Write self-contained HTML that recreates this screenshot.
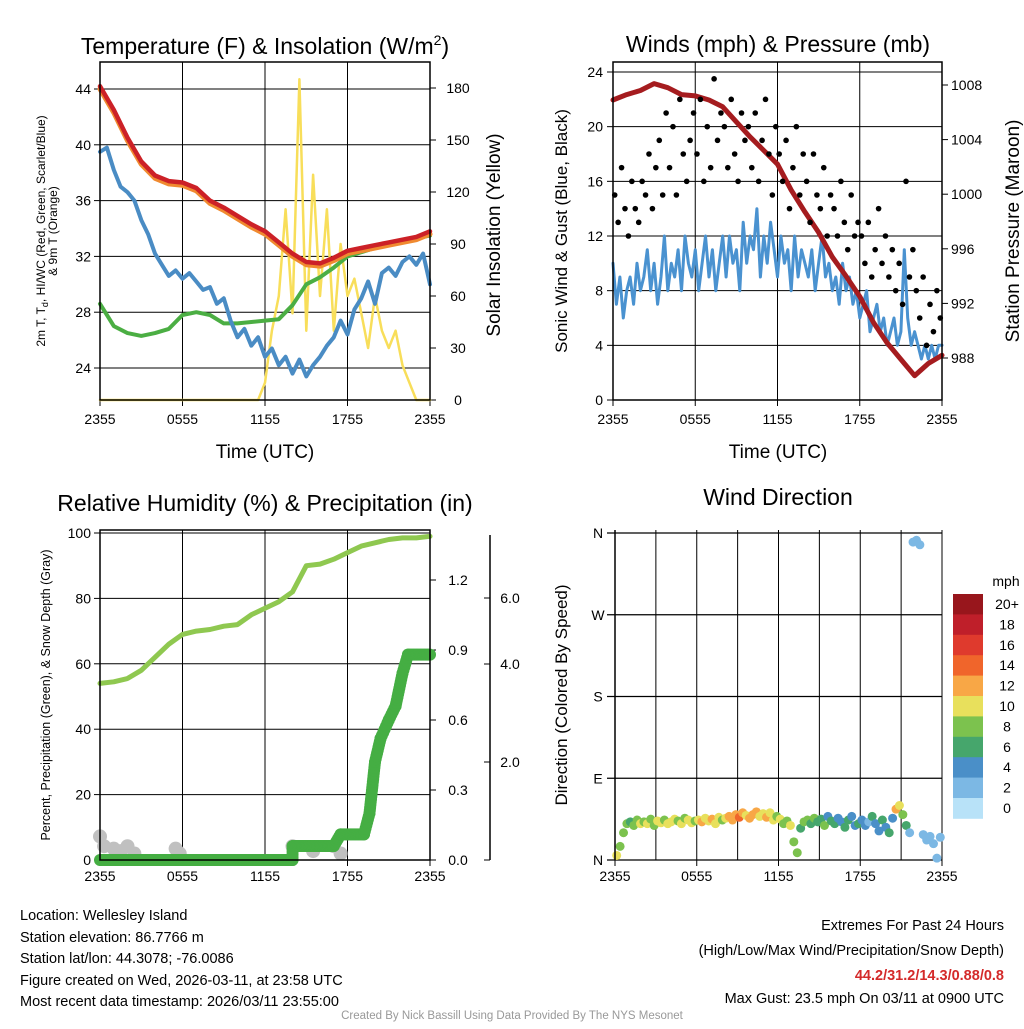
<!DOCTYPE html>
<html><head><meta charset="utf-8"><style>
body{margin:0;background:#fff;width:1024px;height:1024px;overflow:hidden;font-family:"Liberation Sans",sans-serif}
svg text{font-family:"Liberation Sans",sans-serif;fill:#000}
</style></head><body>
<svg id="s" width="1024" height="1024" viewBox="0 0 1024 1024">
<text x="265" y="54" font-size="23" text-anchor="middle">Temperature (F) &amp; Insolation (W/m<tspan font-size="14" dy="-9">2</tspan><tspan dy="9">)</tspan></text>
<text x="778" y="52" font-size="23" text-anchor="middle">Winds (mph) &amp; Pressure (mb)</text>
<text x="265" y="511" font-size="23" text-anchor="middle">Relative Humidity (%) &amp; Precipitation (in)</text>
<text x="778" y="505" font-size="23" text-anchor="middle">Wind Direction</text>
<text x="265" y="458" font-size="19" text-anchor="middle">Time (UTC)</text>
<text x="778" y="458" font-size="19" text-anchor="middle">Time (UTC)</text>
<g transform="translate(45,231) rotate(-90)"><text x="0" y="0" font-size="12" text-anchor="middle">2m T, T<tspan font-size="9" dy="3">d</tspan><tspan dy="-3">, HI/WC (Red, Green, Scarlet/Blue)</tspan></text><text x="0" y="12" font-size="12" text-anchor="middle">&amp; 9m T (Orange)</text></g>
<text transform="translate(500,235) rotate(-90)" font-size="19" text-anchor="middle">Solar Insolation (Yellow)</text>
<text transform="translate(567,231) rotate(-90)" font-size="17" text-anchor="middle">Sonic Wind &amp; Gust (Blue, Black)</text>
<text transform="translate(1019,231) rotate(-90)" font-size="19" text-anchor="middle">Station Pressure (Maroon)</text>
<text transform="translate(50,695) rotate(-90)" font-size="12.5" text-anchor="middle">Percent, Precipitation (Green), &amp; Snow Depth (Gray)</text>
<text transform="translate(567,695) rotate(-90)" font-size="17" text-anchor="middle">Direction (Colored By Speed)</text>
<g font-size="14.5">
<text x="20" y="920">Location: Wellesley Island</text>
<text x="20" y="942">Station elevation: 86.7766 m</text>
<text x="20" y="963">Station lat/lon: 44.3078; -76.0086</text>
<text x="20" y="985">Figure created on Wed, 2026-03-11, at 23:58 UTC</text>
<text x="20" y="1006">Most recent data timestamp: 2026/03/11 23:55:00</text>
</g>
<g font-size="14.5" text-anchor="end">
<text x="1004" y="930">Extremes For Past 24 Hours</text>
<text x="1004" y="955">(High/Low/Max Wind/Precipitation/Snow Depth)</text>
<text x="1004" y="980" font-weight="bold" style="fill:#d42a2a">44.2/31.2/14.3/0.88/0.8</text>
<text x="1004" y="1003">Max Gust: 23.5 mph On 03/11 at 0900 UTC</text>
</g>
<text x="512" y="1019" font-size="11.5" text-anchor="middle" style="fill:#999">Created By Nick Bassill Using Data Provided By The NYS Mesonet</text>
<g id="g"></g>
</svg>
<script>
// ---------- data ----------
const xTickLabels=["2355","0555","1155","1755","2355"];
const hoursHourly=[0,1,2,3,4,5,6,7,8,9,10,11,12,13,14,15,16,17,18,19,20,21,22,23,24];
const tempRed=[44.2,42.5,40.5,38.8,37.8,37.4,37.3,36.9,36.0,35.5,34.9,34.3,33.8,33.0,32.2,31.6,31.5,31.9,32.4,32.6,32.8,33.0,33.2,33.4,33.8];
const dewGreen=[28.6,27.0,26.5,26.3,26.5,26.8,27.8,28.0,27.8,27.2,27.2,27.3,27.4,27.5,28.5,30.0,30.5,31.2,32.0,32.3,32.6,32.8,33.0,33.3,33.5];
const hiwcBlue=[39.5,39.8,38.2,37.0,36.6,36.0,34.6,33.6,32.2,31.4,30.6,31.0,30.4,30.8,30.2,29.6,29.8,28.6,29.0,27.4,26.2,26.8,25.6,26.2,24.8,25.4,24.2,24.8,23.6,24.6,23.4,24.2,24.8,25.6,26.2,27.4,26.4,28.2,29.0,30.2,28.6,30.8,31.2,30.6,31.6,32.0,31.4,32.2,30.0];
const insolation=[0,0,0,0,0,0,0,0,0,0,0,0,0,0,0,0,0,0,0,0,0,0,0,0,10,40,60,110,50,185,40,130,60,110,40,90,60,70,50,30,60,40,30,40,20,10,0,0,0];
const pressure=[1006.9,1007.3,1007.6,1008.1,1007.8,1007.3,1007.2,1006.9,1006.4,1005.3,1004.2,1003.2,1002.2,1000.3,998.7,997.2,995.4,994.0,992.5,990.6,989.1,987.9,986.7,987.6,988.2];
const sonicWind=[10,7,9,6,8,9,7,10,8, 9,11,8,10,7,9,12,8, 10,9,11,8,12,10,9,11, 8,10,12,9,11,8,10,12, 9,12,10,11,8,13,10,12, 11,14,9,12,10,13,11,9, 12,10,11,8,12,9,11,10, 9,11,8,10,12,9,10,8, 9,7,10,8,9,7,8,6, 7,8,5,6,7,5,6,4, 5,6,4,5,11,6,4,5, 4,3,4,3,4,3,4,4];
const gust=[15,13,17,14,12,16,14,13, 16,15,18,14,17,19,15,21, 17,20,15,22,18,16,19,21, 18,22,16,20,17,23.5,19,21, 20,17,22,18,16,21,19,20, 17,21,16,19,22,18,15,20, 18,16,19,14,17,20,15,18, 16,13,18,15,14,17,12,15, 14,12,16,13,11,15,12,13, 12,10,13,9,11,14,10,12, 9,11,8,10,7,16,9,11, 8,6,9,4,7,5,8,6];
const rhPct=[54,54.5,55.5,58,62,66,69,70,70.5,71.5,72,75,77,79,82,90,90.5,92,94,96,97,98,98.5,98.5,99];
const precipHours=[0,14,14.01,17,17.5,19.2,19.6,20,20.4,21,21.5,22,22.4,24];
const precipIn=[0,0,0.06,0.06,0.11,0.11,0.2,0.42,0.52,0.6,0.66,0.8,0.88,0.88];
const snowHours=[0,0.3,1,1.5,2,2.5,5.5,5.8,14,15.5,17,17.5];
const snowDepth=[0.4,0.2,0.15,0.1,0.2,0.05,0.15,0.05,0.2,0.1,0.2,0.05];
const dirDeg=[5,15,30,40,42,38,44,40, 42,40,45,38,43,41,44,40, 42,45,43,40,46,44,41,43, 44,42,46,43,45,40,47,44, 46,48,44,50,47,52,49,46, 50,53,48,51,47,52,44,48, 45,40,43,38,20,8,35,42, 44,40,46,42,45,38,48,43, 40,46,42,36,44,48,38,40, 44,38,42,48,40,32,44,36, 30,46,56,60,50,38,30,350, 352,347,28,22,26,18,2,25];
const dirSpeed=[10,9,8,8,7,9,8,10, 9,10,8,9,11,10,9,10, 10,11,9,10,8,10,11,9, 10,12,11,10,12,11,10,9, 11,12,13,12,14,12,11,12, 13,12,10,11,12,11,10,9, 10,9,8,10,9,8,7,8, 8,6,9,7,6,8,5,7, 6,5,4,7,6,5,4,6, 4,5,3,6,4,5,7,4, 6,4,12,11,8,7,3,2, 2,3,2,3,2,2,3,2];
const cbLabels=["20+","18","16","14","12","10","8","6","4","2","0"];
const cbColors=["#98161c","#bf1f2a","#df3a2d","#f0652b","#f8a746","#e8e05c","#7cc24e","#46a66c","#4a8fc8","#7cb8e4","#b8e2f8"];

// ---------- helpers ----------
const NS="http://www.w3.org/2000/svg",G=document.getElementById('g');
function mk(t,a){const e=document.createElementNS(NS,t);for(const k in a)e.setAttribute(k,a[k]);G.appendChild(e);return e;}
function lin(d0,d1,r0,r1){return v=>r0+(v-d0)/(d1-d0)*(r1-r0);}
function poly(xs,ys,fx,fy,col,w,name){const p=xs.map((x,i)=>fx(x).toFixed(1)+','+fy(ys[i]).toFixed(1)).join(' ');
 const e=mk('polyline',{points:p,fill:'none',stroke:col,'stroke-width':w,'stroke-linejoin':'round','stroke-linecap':'round'});
 
 return e;}
function dot(x,y,r,col,name){const e=mk('circle',{cx:x,cy:y,r:r,fill:col});
 
 return e;}
function txt(x,y,s,size,anchor,name){const e=mk('text',{x:x,y:y,'font-size':size,'text-anchor':anchor});e.textContent=s;
 
 return e;}
function frame(x0,y0,x1,y1,name){const e=mk('rect',{x:x0,y:y0,width:x1-x0,height:y1-y0,fill:'none',stroke:'#000','stroke-width':1.5});
 
 }
function gl(x1,y1,x2,y2,w,name){const e=mk('line',{x1,y1,x2,y2,stroke:'#000','stroke-width':w});
 
 }
const hh=hoursHourly.map(h=>h);
const halfH=insolation.map((_,i)=>i/2);

// ---------- panel 1 ----------
{const X0=100,X1=430,Y0=62,Y1=400;
 const fx=lin(0,24,X0,X1),fy=lin(24,44,368,89),fs=lin(0,180,400,88),bx=lin(0,hiwcBlue.length-1,X0,X1);
 for(let i=0;i<=4;i++){gl(fx(i*6),Y0,fx(i*6),Y1,1,'temp-x-grid');gl(fx(i*6),Y1,fx(i*6),Y1+6,1,'temp-x-tick');txt(fx(i*6),Y1+24,xTickLabels[i],14,'middle','temp-x-label');}
 [24,28,32,36,40,44].forEach(v=>{gl(X0,fy(v),X1,fy(v),1,'temp-y-grid');gl(X0-6,fy(v),X0,fy(v),1,'temp-y-tick');txt(X0-9,fy(v)+5,String(v),14,'end','temp-y-label');});
 [0,30,60,90,120,150,180].forEach(v=>{gl(X1,fs(v),X1+6,fs(v),1,'insolation-tick');txt(X1+28,fs(v)+5,String(v),14,'middle','insolation-label');});
 poly(halfH,insolation,fx,fs,'#f8de5a',2.5,'insolation-line');
 poly(hh,dewGreen,fx,fy,'#4bae43',4,'dewpoint-line');
 poly(hiwcBlue.map((_,i)=>i),hiwcBlue,bx,fy,'#4a8cc4',4,'windchill-line');
 poly(hh,tempRed.map(v=>v-0.2),fx,fy,'#f08a30',5,'temp-9m-line');
 poly(hh,tempRed,fx,fy,'#cc2127',4.5,'temp-2m-line');
 frame(X0,Y0,X1,Y1,'temp-plot-frame');}

// ---------- panel 2 ----------
{const X0=613,X1=942,Y0=62,Y1=400;
 const fx=lin(0,24,X0,X1),fy=lin(0,24,400,72),fp=lin(988,1008,358,85),gx=lin(0,gust.length,X0,X1),sx=lin(0,sonicWind.length-1,X0,X1);
 for(let i=0;i<=4;i++){gl(fx(i*6),Y0,fx(i*6),Y1,1,'wind-x-grid');gl(fx(i*6),Y1,fx(i*6),Y1+6,1,'wind-x-tick');txt(fx(i*6),Y1+24,xTickLabels[i],14,'middle','wind-x-label');}
 [0,4,8,12,16,20,24].forEach(v=>{gl(X0,fy(v),X1,fy(v),1,'wind-y-grid');gl(X0-6,fy(v),X0,fy(v),1,'wind-y-tick');txt(X0-10,fy(v)+5,String(v),14,'end','wind-y-label');});
 [988,992,996,1000,1004,1008].forEach(v=>{gl(X1,fp(v),X1+6,fp(v),1,'pressure-tick');txt(X1+9,fp(v)+5,String(v),14,'start','pressure-label');});
 poly(sonicWind.map((_,i)=>i),sonicWind,sx,fy,'#4a92d0',3,'sonic-wind-line');
 poly(hh,pressure,fx,fp,'#a51c1f',5,'pressure-line');
 gust.forEach((v,i)=>dot(gx(i+0.5),fy(v),2.8,'#000','gust-point'));
 frame(X0,Y0,X1,Y1,'wind-plot-frame');}

// ---------- panel 3 ----------
{const X0=100,X1=430,Y0=530,Y1=860;
 const fx=lin(0,24,X0,X1),fy=lin(0,100,860,533),fp=lin(0,1.2,860,580),fsn=lin(0,2,860,762);
 for(let i=0;i<=4;i++){gl(fx(i*6),Y0,fx(i*6),Y1,1,'rh-x-grid');gl(fx(i*6),Y1,fx(i*6),Y1+6,1,'rh-x-tick');txt(fx(i*6),Y1+21,xTickLabels[i],14,'middle','rh-x-label');}
 [0,20,40,60,80,100].forEach(v=>{gl(X0,fy(v),X1,fy(v),1,'rh-y-grid');gl(X0-6,fy(v),X0,fy(v),1,'rh-y-tick');txt(X0-9,fy(v)+5,String(v),14,'end','rh-y-label');});
 [0,0.3,0.6,0.9,1.2].forEach(v=>{gl(X1,fp(v),X1+6,fp(v),1,'precip-tick');txt(X1+28,fp(v)+5,v.toFixed(1),14,'middle','precip-label');});
 gl(490,535,490,860,1.5,'snow-axis');
 [[2,762],[4,664],[6,598]].forEach(a=>{gl(484,a[1],490,a[1],1,'snow-tick');txt(510,a[1]+5,a[0].toFixed(1),14,'middle','snow-label');});
 gl(484,860,490,860,1,'snow-tick');
 snowHours.forEach((h,i)=>dot(fx(h),fsn(snowDepth[i])-4,7,'#c0c0c0','snow-point'));
 poly(hh,rhPct,fx,fy,'#8fc850',5,'rh-line');
 for(let i=0;i<precipHours.length-1;i++){const h0=precipHours[i],h1=precipHours[i+1];
  const n=Math.max(2,Math.round(Math.max((h1-h0)*10,(precipIn[i+1]-precipIn[i])*80)));
  for(let k=0;k<=n;k++){const t=k/n;dot(fx(h0+(h1-h0)*t),fp(precipIn[i]+(precipIn[i+1]-precipIn[i])*t),6,'#45ae43','precip-point');}}
 frame(X0,Y0,X1,Y1,'rh-plot-frame');}

// ---------- panel 4 ----------
{const X0=615,X1=942,Y0=533,Y1=860;
 const fx=lin(0,dirDeg.length,X0,X1),fy=lin(0,360,860,533),hx=lin(0,24,X0,X1);
 for(let i=0;i<=8;i++){gl(hx(i*3),Y0-3,hx(i*3),Y1,1,'direction-x-grid');}
 for(let i=0;i<=4;i++){gl(hx(i*6),Y1,hx(i*6),Y1+6,1,'direction-x-tick');txt(hx(i*6),Y1+21,xTickLabels[i],14,'middle','direction-x-label');}
 ["N","E","S","W","N"].forEach((l,i)=>{const y=fy(i*90);gl(X0-8,y,X1,y,1.2,'direction-y-grid');txt(X0-17,y+5,l,14,'middle','direction-y-label');});
 dirDeg.forEach((d,i)=>{const ci=Math.max(0,Math.min(10,10-Math.floor(dirSpeed[i]/2)));dot(fx(i+0.5),fy(d),4.5,cbColors[ci],'direction-point');});
 gl(X0,Y0-3,X0,Y1,1.5,'direction-left-axis');
 txt(1006,586,'mph',14,'middle','colorbar-title');
 cbColors.forEach((c,i)=>{const e=mk('rect',{x:953,y:594+i*20.4,width:30,height:20.8,fill:c});
  
  
  txt(1007,594+i*20.4+15,cbLabels[i],14,'middle','colorbar-label');});}
</script>
</body></html>
